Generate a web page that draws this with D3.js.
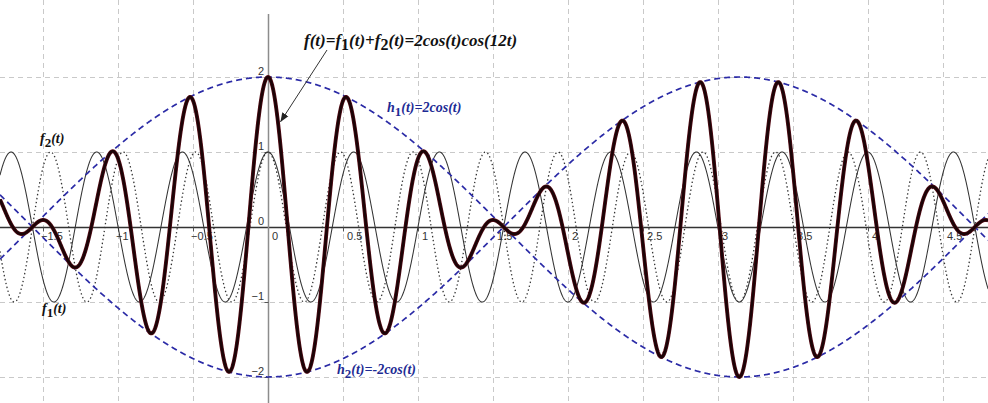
<!DOCTYPE html>
<html>
<head>
<meta charset="utf-8">
<script src="https://cdn.jsdelivr.net/npm/d3@7"></script>
<style>
  html, body { margin: 0; padding: 0; background: #fff; }
  svg { display: block; }
</style>
</head>
<body>
<svg id="chart" width="988" height="403"></svg>
<script>
// Visible window of the t axis and of the value axis
const tRange = [-1.787, 4.8];
const valueRange = [-2.347, 3.027];

// Grid / tick positions
const xTicks = [-1.5, -1, -0.5, 0, 0.5, 1, 1.5, 2, 2.5, 3, 3.5, 4, 4.5];
const yTicks = [-2, -1, 0, 1, 2];

// Partial waves: f1(t) = cos(11t) (solid), f2(t) = cos(13t) (dotted)
const partialFreqs = [11, 13];
const partialAmps = [1, 1];
const partialDash = [null, "1.4,2.6"];

// Envelopes: h1(t) = 2cos(t), h2(t) = -2cos(t)
const envelopeAmps = [2, -2];
const envelopeFreq = 1;

// Beat: f(t) = f1(t) + f2(t) = 2cos(t)cos(12t)
const sumAmp = 2;
const carrierFreq = 12;

// Sampling resolution along t
const sampleStep = 0.002;

// Annotation arrow: points at f near this t
const arrowTargetT = 0.066;

const W = 988, H = 403;
const svg = d3.select("#chart");

const x = d3.scaleLinear().domain(tRange).range([0, W]);
const y = d3.scaleLinear().domain(valueRange).range([H, 0]);

const ts = d3.range(tRange[0], tRange[1] + sampleStep, sampleStep);
const line = d3.line().x(d => x(d[0])).y(d => y(d[1]));

const gridColor = "#c9c9c9";
const blue = "#2a2aa6";
const blueText = "#1d2b94";

// ---- background
svg.append("rect").attr("width", W).attr("height", H).attr("fill", "#fff");

// ---- dashed grid
const grid = svg.append("g").attr("stroke", gridColor).attr("stroke-width", 1)
  .attr("stroke-dasharray", "5,4").attr("shape-rendering", "crispEdges");
grid.selectAll("line.v").data(xTicks.filter(v => v !== 0)).join("line")
  .attr("x1", d => Math.round(x(d)) + 0.5).attr("x2", d => Math.round(x(d)) + 0.5)
  .attr("y1", 0).attr("y2", H);
grid.selectAll("line.h").data(yTicks.filter(v => v !== 0)).join("line")
  .attr("y1", d => Math.round(y(d)) + 0.5).attr("y2", d => Math.round(y(d)) + 0.5)
  .attr("x1", 0).attr("x2", W);

// ---- axes
const x0 = Math.round(x(0)) + 0.5, y0 = Math.round(y(0)) + 0.5;
svg.append("line").attr("x1", 0).attr("x2", W).attr("y1", y0).attr("y2", y0)
  .attr("stroke", "#333").attr("stroke-width", 1.3);
svg.append("line").attr("x1", x0).attr("x2", x0).attr("y1", 14).attr("y2", H)
  .attr("stroke", "#8c8c8c").attr("stroke-width", 1.5);

// tick marks
svg.append("g").selectAll("line").data(xTicks.filter(v => v !== 0)).join("line")
  .attr("x1", d => Math.round(x(d)) + 0.5).attr("x2", d => Math.round(x(d)) + 0.5)
  .attr("y1", y0).attr("y2", y0 + 4).attr("stroke", "#555").attr("stroke-width", 1);
svg.append("g").selectAll("line").data(yTicks.filter(v => v !== 0)).join("line")
  .attr("y1", d => Math.round(y(d)) + 0.5).attr("y2", d => Math.round(y(d)) + 0.5)
  .attr("x1", x0 - 4).attr("x2", x0).attr("stroke", "#555").attr("stroke-width", 1);

// tick labels
const fmt = d3.format("");
const tickFont = "'Liberation Sans', Arial, sans-serif";
svg.append("g").selectAll("text").data(xTicks).join("text")
  .attr("x", d => x(d) + (d < 0 ? -2 : 4))
  .attr("y", y(0) + 13)
  .attr("font-family", tickFont).attr("font-size", 11).attr("fill", "#333")
  .text(d => fmt(d));
svg.append("g").selectAll("text").data(yTicks).join("text")
  .attr("x", x(0) - 4)
  .attr("y", d => y(d) - 2)
  .attr("text-anchor", "end")
  .attr("font-family", tickFont).attr("font-size", 11).attr("fill", "#333")
  .text(d => fmt(d));

// ---- partial waves f1, f2
partialFreqs.forEach((w, i) => {
  const pts = ts.map(t => [t, partialAmps[i] * Math.cos(w * t)]);
  svg.append("path").attr("d", line(pts)).attr("fill", "none")
    .attr("stroke", "#333").attr("stroke-width", i === 0 ? 1.05 : 1.3)
    .attr("stroke-dasharray", partialDash[i]);
});

// ---- envelopes h1, h2
envelopeAmps.forEach(a => {
  const pts = ts.map(t => [t, a * Math.cos(envelopeFreq * t)]);
  svg.append("path").attr("d", line(pts)).attr("fill", "none")
    .attr("stroke", blue).attr("stroke-width", 1.7).attr("stroke-dasharray", "6,4");
});

// ---- beat f(t): dark core with a maroon rim
const sumPts = ts.map(t => [t, sumAmp * Math.cos(envelopeFreq * t) * Math.cos(carrierFreq * t)]);
svg.append("path").attr("d", line(sumPts)).attr("fill", "none")
  .attr("stroke", "#5a101a").attr("stroke-width", 3.9).attr("stroke-linejoin", "round");
svg.append("path").attr("d", line(sumPts)).attr("fill", "none")
  .attr("stroke", "#1c0407").attr("stroke-width", 2.6).attr("stroke-linejoin", "round");

// ---- labels (bold italic serif, with subscripts)
const labelFont = "'Liberation Serif', 'Times New Roman', serif";
function richLabel(px, py, parts, color, size) {
  const t = svg.append("text").attr("x", px).attr("y", py)
    .attr("font-family", labelFont).attr("font-style", "italic").attr("font-weight", "bold")
    .attr("font-size", size).attr("fill", color);
  let sub = false;
  parts.forEach(p => {
    const isSub = p.startsWith("_");
    const txt = isSub ? p.slice(1) : p;
    const sp = t.append("tspan").text(txt);
    if (isSub && !sub) { sp.attr("dy", 4).attr("font-size", size - 1).attr("font-style", "normal"); sub = true; }
    else if (!isSub && sub) { sp.attr("dy", -4); sub = false; }
  });
  return t;
}

richLabel(304, 46, ["f(t)=f", "_1", "(t)+f", "_2", "(t)=2cos(t)cos(12t)"], "#111", 17);
richLabel(387, 112, ["h", "_1", "(t)=2cos(t)"], blueText, 14);
richLabel(337, 374, ["h", "_2", "(t)=-2cos(t)"], blueText, 14);
richLabel(40, 143, ["f", "_2", "(t)"], "#111", 14);
richLabel(42, 313, ["f", "_1", "(t)"], "#111", 14);

// ---- arrow from the f(t) label to the curve
const tipX = x(arrowTargetT) + 2.5;
const tipY = y(sumAmp * Math.cos(envelopeFreq * arrowTargetT) * Math.cos(carrierFreq * arrowTargetT));
const startX = 327, startY = 50;
svg.append("defs").append("marker").attr("id", "head")
  .attr("viewBox", "0 0 10 10").attr("refX", 10).attr("refY", 5)
  .attr("markerWidth", 9).attr("markerHeight", 9).attr("markerUnits", "userSpaceOnUse")
  .attr("orient", "auto")
  .append("path").attr("d", "M0,1 L10,5 L0,9 Z").attr("fill", "#222");
svg.append("line").attr("x1", startX).attr("y1", startY).attr("x2", tipX).attr("y2", tipY)
  .attr("stroke", "#333").attr("stroke-width", 1).attr("marker-end", "url(#head)");
</script>
</body>
</html>
